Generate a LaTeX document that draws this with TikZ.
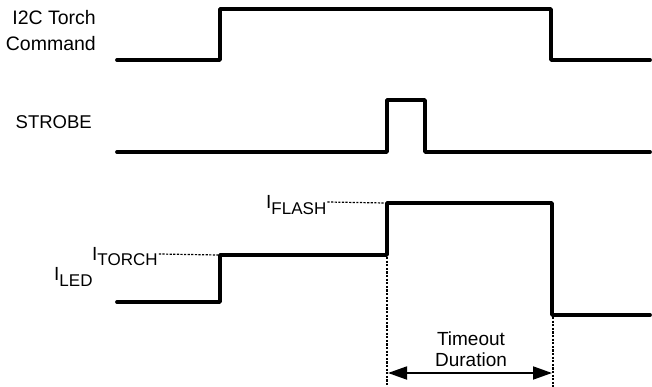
\documentclass[tikz,border=0pt]{standalone}
\usepackage{fontspec}
\setmainfont{Liberation Sans}
\usetikzlibrary{arrows.meta}
\begin{document}
\begin{tikzpicture}[x=1pt,y=-1pt,
  sig/.style={line width=3.8pt,line cap=round,line join=round},
  guide/.style={line width=1.2pt,dash pattern=on 2.2pt off 1.4pt},
  lbl/.style={font=\fontsize{19.5}{26}\selectfont,inner sep=0pt},
  sub/.style={font=\fontsize{19}{20}\selectfont,inner sep=0pt},
  dim/.style={line width=1.8pt,{Triangle[length=19pt,width=13pt]}-{Triangle[length=19pt,width=13pt]}}]
\useasboundingbox (0,0) rectangle (652,387);
% labels
\node[lbl,align=right,anchor=east] (cmd) at (96,31) {I2C Torch\\Command};
\node[lbl,anchor=east] (strobe) at (92,122) {\fontsize{18.5}{20}\selectfont STROBE};
% waveforms
\draw[sig] (117,60) -- (220,60) -- (220,9) -- (551,9) -- (551,60) -- (650,60);
\draw[sig] (117,152) -- (387,152) -- (387,100) -- (425,100) -- (425,152) -- (650,152);
\draw[sig] (117,302) -- (220,302) -- (220,255) -- (387,255) -- (387,203) -- (552,203) -- (552,315) -- (650,315);
% current labels
\node[sub,anchor=base west] (iled) at (54,280) {I\raisebox{-6pt}{\fontsize{17}{18}\selectfont LED}};
\node[sub,anchor=base west] (itorch) at (92,260) {I\raisebox{-5pt}{\fontsize{17}{18}\selectfont TORCH}};
\node[sub,anchor=base west] (iflash) at (266,208) {I\raisebox{-6pt}{\fontsize{17}{18}\selectfont FLASH}};
\coordinate (tq) at (218,255);
\coordinate (fq) at (385,203);
\draw[guide] (itorch.east |- tq) ++(1,-1) -- (tq);
\draw[guide] (iflash.east |- fq) ++(1,-1) -- (fq);
% vertical guides
\coordinate (v1t) at (387,257);
\coordinate (v1b) at (387,387);
\coordinate (v2t) at (553,317);
\coordinate (v2b) at (553,387);
\draw[guide] (v1t) -- (v1b);
\draw[guide] (v2t) -- (v2b);
% timeout arrow
\coordinate (a1) at (388,373);
\coordinate (a2) at (552,373);
\draw[dim] (a1) -- (a2);
\node[lbl,align=center,font=\fontsize{19}{21}\selectfont] (tmo) at (471,349) {Timeout\\Duration};
\end{tikzpicture}
\end{document}
